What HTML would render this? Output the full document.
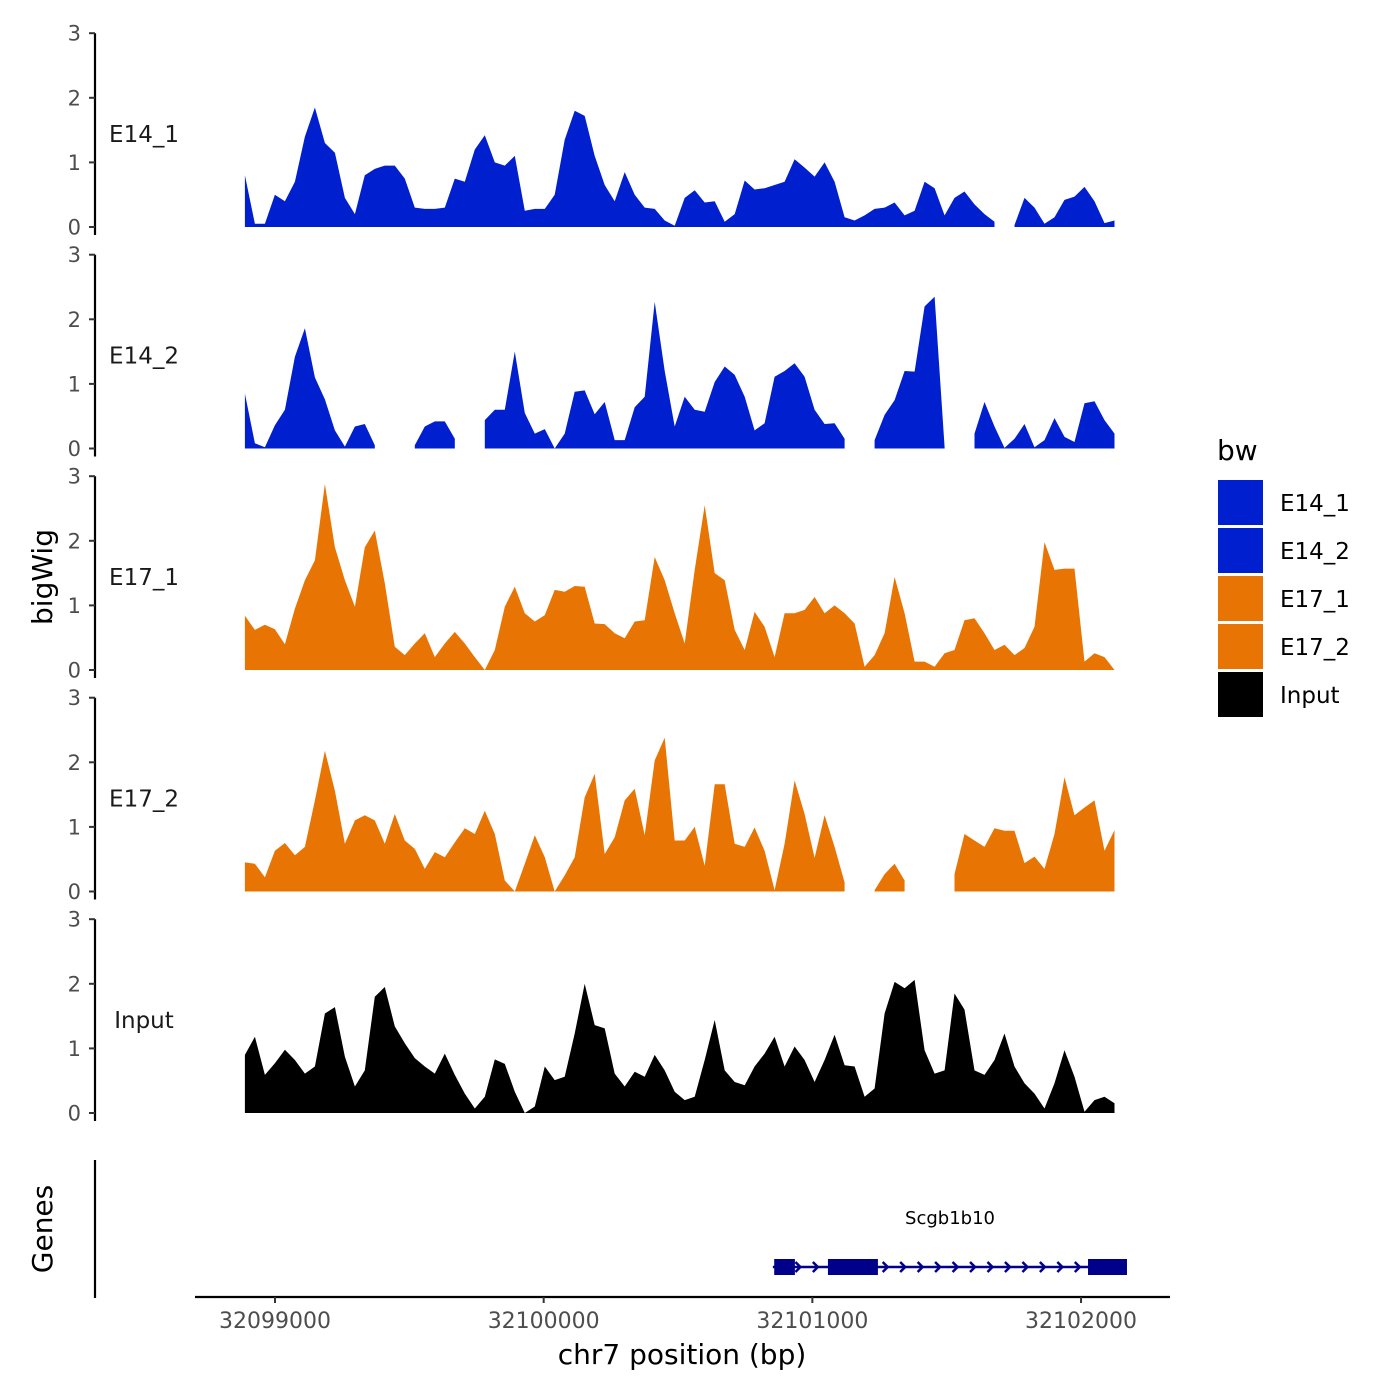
<!DOCTYPE html>
<html><head><meta charset="utf-8"><style>
body{margin:0;background:#fff}
svg{display:block;font-family:"DejaVu Sans","Liberation Sans",sans-serif}
</style></head><body>
<svg id="chart" width="1400" height="1400" viewBox="0 0 1400 1400"></svg>
<script>
// ---- data ----
const regionStart = 32098888;       // first bin position (bp)
const binSize = 37.2;               // bp per bin
const trackNames = ["E14_1","E14_2","E17_1","E17_2","Input"];
const trackColors = ["#0020CF","#0020CF","#E87503","#E87503","#000000"];
const e14_1 = [0.8,0.05,0.05,0.5,0.4,0.7,1.4,1.85,1.3,1.15,0.45,0.2,0.8,0.9,0.95,0.95,0.75,0.3,0.28,0.28,0.3,0.75,0.7,1.2,1.42,1.0,0.95,1.1,0.25,0.28,0.28,0.5,1.35,1.8,1.72,1.1,0.65,0.4,0.85,0.5,0.3,0.28,0.1,0.02,0.45,0.57,0.38,0.4,0.08,0.2,0.72,0.58,0.6,0.65,0.7,1.05,0.92,0.78,1.0,0.7,0.15,0.1,0.18,0.28,0.3,0.38,0.18,0.25,0.7,0.6,0.18,0.45,0.55,0.35,0.2,0.08,null,0.03,0.45,0.3,0.05,0.15,0.42,0.47,0.62,0.4,0.06,0.1];
const e14_2 = [0.85,0.08,0.02,0.36,0.6,1.42,1.86,1.1,0.76,0.28,0.03,0.34,0.38,0.05,null,null,null,0.05,0.34,0.42,0.42,0.15,null,null,0.44,0.6,0.6,1.5,0.55,0.23,0.3,0,0.23,0.88,0.9,0.53,0.72,0.13,0.13,0.64,0.8,2.27,1.2,0.34,0.8,0.6,0.57,1.03,1.27,1.14,0.8,0.28,0.39,1.11,1.2,1.32,1.11,0.6,0.38,0.39,0.15,null,null,0.13,0.52,0.75,1.2,1.19,2.2,2.35,0.02,null,null,0.23,0.72,0.34,0.01,0.15,0.38,0.02,0.13,0.47,0.18,0.1,0.7,0.73,0.44,0.23];
const e17_1 = [0.84,0.62,0.7,0.63,0.4,0.95,1.39,1.7,2.88,1.9,1.39,0.98,1.9,2.16,1.34,0.36,0.23,0.41,0.57,0.2,0.41,0.59,0.41,0.2,0,0.31,0.98,1.29,0.88,0.75,0.85,1.24,1.21,1.3,1.29,0.72,0.71,0.57,0.49,0.75,0.77,1.75,1.39,0.88,0.41,1.55,2.55,1.5,1.39,0.62,0.31,0.9,0.67,0.2,0.88,0.88,0.93,1.13,0.88,1.0,0.88,0.72,0.05,0.23,0.57,1.44,0.88,0.13,0.13,0.05,0.26,0.31,0.77,0.8,0.57,0.31,0.39,0.23,0.34,0.67,1.98,1.55,1.57,1.57,0.13,0.26,0.2,0];
const e17_2 = [0.45,0.43,0.22,0.63,0.75,0.56,0.69,1.41,2.18,1.56,0.74,1.1,1.18,1.1,0.74,1.2,0.79,0.66,0.35,0.61,0.53,0.76,0.98,0.89,1.25,0.89,0.17,0,0.43,0.87,0.53,0,0.25,0.53,1.46,1.82,0.58,0.84,1.41,1.59,0.87,2.03,2.38,0.79,0.79,1.0,0.4,1.66,1.66,0.74,0.69,0.99,0.63,0.02,0.74,1.72,1.2,0.52,1.18,0.69,0.14,null,null,0.02,0.27,0.43,0.17,null,null,null,null,0.27,0.89,0.79,0.69,0.98,0.94,0.94,0.44,0.54,0.35,0.89,1.77,1.18,1.3,1.41,0.63,0.95];
const input = [0.9,1.18,0.59,0.77,0.98,0.82,0.61,0.72,1.54,1.64,0.87,0.41,0.66,1.8,1.95,1.34,1.08,0.85,0.72,0.61,0.92,0.59,0.3,0.07,0.25,0.83,0.76,0.33,0,0.1,0.72,0.51,0.56,1.23,2.0,1.36,1.31,0.61,0.41,0.64,0.56,0.9,0.66,0.33,0.2,0.25,0.82,1.44,0.66,0.48,0.43,0.72,0.92,1.18,0.72,1.03,0.82,0.48,0.82,1.21,0.74,0.72,0.25,0.38,1.54,2.03,1.93,2.06,0.97,0.61,0.66,1.85,1.6,0.66,0.59,0.82,1.23,0.72,0.46,0.3,0.07,0.46,0.97,0.56,0.02,0.2,0.25,0.15];
const yTicks = [0,1,2,3];
const xTicks = [32099000,32100000,32101000,32102000];
const xTickLabels = ["32099000","32100000","32101000","32102000"];
const geneName = "Scgb1b10";
const geneStart = 32100853, geneEnd = 32102171;
const exonStarts = [32100858,32101058,32102026];
const exonEnds = [32100935,32101244,32102171];

// ---- scales ----
const NS="http://www.w3.org/2000/svg";
const svg=document.getElementById("chart");
function mk(tag,attrs,parent){const e=document.createElementNS(NS,tag);for(const k in attrs)e.setAttribute(k,attrs[k]);(parent||svg).appendChild(e);return e;}
const xScale = bp => 275 + (bp-32099000)*0.26868;
const panelBase = [227,448.5,670,891.5,1113];
const unitPx = 64.6;
const yScale = (v,p) => panelBase[p] - v*unitPx;
const allSeries=[e14_1,e14_2,e17_1,e17_2,input];

allSeries.forEach((vals,p)=>{
  const g=mk("g",{});
  
  
  let seg=[];
  const segs=[];
  vals.forEach((v,i)=>{ if(v===null){if(seg.length)segs.push(seg);seg=[];} else seg.push([xScale(regionStart+i*binSize),yScale(v,p)]);});
  if(seg.length)segs.push(seg);
  segs.forEach(s=>{
    let d="M"+s[0][0].toFixed(1)+","+panelBase[p];
    s.forEach(pt=>d+="L"+pt[0].toFixed(1)+","+pt[1].toFixed(1));
    d+="L"+s[s.length-1][0].toFixed(1)+","+panelBase[p]+"Z";
    const a=mk("path",{d:d,fill:trackColors[p]},g);
    
    
  });
  const ax=mk("line",{x1:95,x2:95,y1:panelBase[p]-3*unitPx,y2:panelBase[p]+8,stroke:"#000","stroke-width":2.2},g);
  
  
  yTicks.forEach(t=>{
    const y=yScale(t,p);
    const tk=mk("line",{x1:89,x2:95,y1:y,y2:y,stroke:"#333","stroke-width":2},g);
    
    
    const tl=mk("text",{x:81,y:y+7.5,"text-anchor":"end","font-size":21,fill:"#4d4d4d"},g);
    tl.textContent=t;
    
    
  });
  const lab=mk("text",{x:144,y:panelBase[p]-85,"text-anchor":"middle","font-size":23,fill:"#1a1a1a"},g);
  lab.textContent=trackNames[p];
  
  
});

// genes track
const gg=mk("g",{});


const gy=1267;
const gl=mk("line",{x1:xScale(geneStart),x2:xScale(geneEnd),y1:gy,y2:gy,stroke:"#00008B","stroke-width":2.5},gg);


for(let bp=geneStart+30;bp<geneEnd;bp+=65){
  const x=xScale(bp);
  const c=mk("path",{d:`M${x-3},${gy-5}L${x+2},${gy}L${x-3},${gy+5}`,stroke:"#00008B","stroke-width":2.5,fill:"none"},gg);
  
  
}
exonStarts.forEach((s,i)=>{
  const r=mk("rect",{x:xScale(s),y:gy-8,width:xScale(exonEnds[i])-xScale(s),height:16,fill:"#00008B"},gg);
  
  
});
const gn=mk("text",{x:950,y:1224,"text-anchor":"middle","font-size":18,fill:"#000"},gg);
gn.textContent=geneName;


const gax=mk("line",{x1:95,x2:95,y1:1160,y2:1298,stroke:"#000","stroke-width":2.2});



// x axis
const xa=mk("line",{x1:195,x2:1170,y1:1297,y2:1297,stroke:"#000","stroke-width":2.2});


xTicks.forEach((t,i)=>{
  const x=xScale(t);
  const tk=mk("line",{x1:x,x2:x,y1:1297,y2:1303,stroke:"#333","stroke-width":2});
  
  
  const tl=mk("text",{x:x,y:1328,"text-anchor":"middle","font-size":22,fill:"#4d4d4d"});
  tl.textContent=xTickLabels[i];
  
  
});
</script>
<div style="position:absolute;left:0;top:0;width:1400px;height:1400px;pointer-events:none">
<svg width="1400" height="1400" style="font-family:'DejaVu Sans','Liberation Sans',sans-serif">
<text x="682" y="1364" text-anchor="middle" font-size="28" fill="#000">chr7 position (bp)</text>
<text x="0" y="0" transform="translate(52,577) rotate(-90)" text-anchor="middle" font-size="28" fill="#000">bigWig</text>
<text x="0" y="0" transform="translate(52,1229) rotate(-90)" text-anchor="middle" font-size="28" fill="#000">Genes</text>
<g>
<text x="1217" y="460" font-size="28" fill="#000">bw</text>
<rect x="1218" y="480" width="45" height="45" fill="#0020CF"/>
<rect x="1218" y="528" width="45" height="45" fill="#0020CF"/>
<rect x="1218" y="576" width="45" height="45" fill="#E87503"/>
<rect x="1218" y="624" width="45" height="45" fill="#E87503"/>
<rect x="1218" y="672" width="45" height="45" fill="#000000"/>
<text x="1280" y="511" font-size="23" fill="#000">E14_1</text>
<text x="1280" y="559" font-size="23" fill="#000">E14_2</text>
<text x="1280" y="607" font-size="23" fill="#000">E17_1</text>
<text x="1280" y="655" font-size="23" fill="#000">E17_2</text>
<text x="1280" y="703" font-size="23" fill="#000">Input</text>
</g>
</svg>
</div>
</body></html>
